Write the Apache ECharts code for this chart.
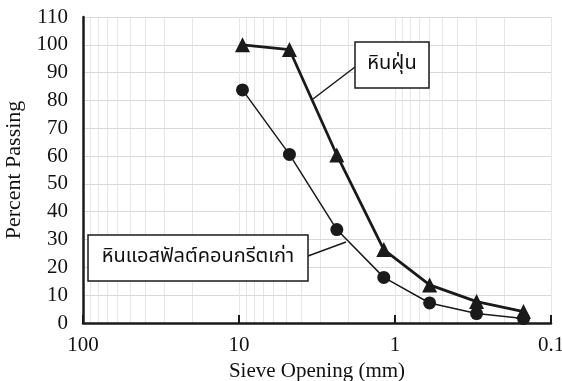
<!DOCTYPE html>
<html>
<head>
<meta charset="utf-8">
<script src="https://cdn.jsdelivr.net/npm/echarts@6/dist/echarts.min.js"></script>
<style>html,body{margin:0;padding:0;background:#fff}#c{width:562px;height:381px}</style>
</head>
<body>
<div id="c"></div>
<script>
// ---- data ----
var sieveSizes = [9.5, 4.75, 2.36, 1.18, 0.6, 0.3, 0.15];
var stoneDust = [100, 98.3, 60.4, 26.4, 13.7, 7.7, 4.1];
var recycledAsphalt = [83.8, 60.6, 33.6, 16.4, 7.2, 3.4, 1.6];
var xTickLabels = ['0.1', '1', '10', '100'];
var seriesNames = ['หินฝุ่น', 'หินแอสฟัลต์คอนกรีตเก่า'];

var serif = '"Liberation Serif", "Times New Roman", serif';
var thai = '"Noto Sans Thai", "Loma", "Garuda", "DejaVu Sans", sans-serif';

// minor log grid lines (2..9 in each decade)
var minor = [];
[0.1, 1, 10].forEach(function (d) {
  for (var m = 2; m <= 9; m++) minor.push({ xAxis: +(m * d).toPrecision(3) });
});

function pairs(ys) { return sieveSizes.map(function (x, i) { return [x, ys[i]]; }); }

var chart = echarts.init(document.getElementById('c'), null, { renderer: 'canvas' });
chart.setOption({
  animation: false,
  backgroundColor: '#fff',
  grid: { left: 83, right: 11, top: 17, bottom: 58, containLabel: false, outerBoundsMode: 'none' },
  xAxis: {
    type: 'log', logBase: 10, min: 0.1, max: 100, inverse: true, z: 1,
    name: 'Sieve Opening (mm)', nameLocation: 'middle', nameGap: 35,
    nameTextStyle: { fontFamily: serif, fontSize: 21, color: '#111' },
    axisLine: { show: true, onZero: false, lineStyle: { color: '#1a1a1a', width: 2.5 } },
    axisTick: { show: true, inside: true, length: 8, lineStyle: { color: '#1a1a1a', width: 2 } },
    axisLabel: { fontFamily: serif, fontSize: 21, color: '#111', margin: 12,
      formatter: function (v) { var s = String(+v.toPrecision(3)); return xTickLabels.indexOf(s) >= 0 ? s : ''; } },
    splitLine: { show: true, lineStyle: { color: '#e6e6e6', width: 1 } },
    minorTick: { show: false }, minorSplitLine: { show: false }
  },
  yAxis: {
    type: 'value', min: 0, max: 110, interval: 10, z: 1,
    name: 'Percent Passing', nameLocation: 'middle', nameGap: 58,
    nameTextStyle: { fontFamily: serif, fontSize: 22, color: '#111' },
    axisLine: { show: true, lineStyle: { color: '#1a1a1a', width: 2.5 } },
    axisTick: { show: false },
    axisLabel: { fontFamily: serif, fontSize: 21, color: '#111', margin: 15 },
    splitLine: { show: true, lineStyle: { color: '#d9d9d9', width: 1 } }
  },
  series: [
    {
      name: seriesNames[0], type: 'line', data: pairs(stoneDust),
      symbol: 'triangle', symbolSize: 15,
      lineStyle: { color: '#1a1a1a', width: 2.8 },
      itemStyle: { color: '#1a1a1a' }, z: 3,
      markLine: {
        silent: true, symbol: ['none', 'none'], label: { show: false },
        lineStyle: { color: '#e6e6e6', width: 1, type: 'solid' },
        emphasis: { disabled: true }, z: 0,
        data: minor
      }
    },
    {
      name: seriesNames[1], type: 'line', data: pairs(recycledAsphalt),
      symbol: 'circle', symbolSize: 13,
      lineStyle: { color: '#1a1a1a', width: 1.5 },
      itemStyle: { color: '#1a1a1a' }, z: 4
    }
  ],
  graphic: [
    { type: 'line', shape: { x1: 355, y1: 67, x2: 313, y2: 99 }, style: { stroke: '#1a1a1a', lineWidth: 1.5 }, z: 10 },
    { type: 'rect', shape: { x: 355, y: 42, width: 74, height: 46 }, style: { fill: '#fff', stroke: '#1a1a1a', lineWidth: 1.5 }, z: 10 },
    { type: 'text', x: 392, y: 65, style: { text: seriesNames[0], font: '20px ' + thai, fill: '#111', align: 'center', verticalAlign: 'middle' }, z: 11 },
    { type: 'line', shape: { x1: 308, y1: 256, x2: 346, y2: 242 }, style: { stroke: '#1a1a1a', lineWidth: 1.5 }, z: 10 },
    { type: 'rect', shape: { x: 88, y: 235, width: 220, height: 46 }, style: { fill: '#fff', stroke: '#1a1a1a', lineWidth: 1.5 }, z: 10 },
    { type: 'text', x: 198, y: 258, style: { text: seriesNames[1], font: '20px ' + thai, fill: '#111', align: 'center', verticalAlign: 'middle' }, z: 11 }
  ]
});
</script>
</body>
</html>
